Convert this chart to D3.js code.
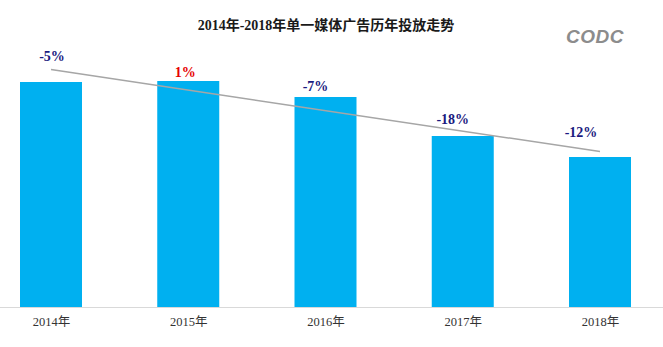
<!DOCTYPE html>
<html>
<head>
<meta charset="utf-8">
<script src="https://cdn.jsdelivr.net/npm/d3@7"></script>
<style>
  html, body { margin: 0; padding: 0; background: #fff; }
  svg { display: block; }
</style>
</head>
<body>
<svg id="chart" width="663" height="347"></svg>
<script>
// ---- data ----
const categories = ["2014年", "2015年", "2016年", "2017年", "2018年"];
const values = [225, 226, 210, 171, 150];
const growthLabels = ["-5%", "1%", "-7%", "-18%", "-12%"];
const titleText = "2014年-2018年单一媒体广告历年投放走势";

// ---- layout ----
const W = 663, H = 347;
const baseY = 307;
const barW = 62;
// label offsets relative to bar centre / bar top
const labelDx = [1, -3, -10, -10, -19];
const labelDy = [-26, -9, -11, -17, -25];

const svg = d3.select("#chart");

const x = d3.scalePoint().domain(categories).range([51, 600]);
const y = d3.scaleLinear().domain([0, 250]).range([baseY, baseY - 250]);

// title
svg.append("text")
  .attr("x", 326).attr("y", 30)
  .attr("text-anchor", "middle")
  .attr("font-family", "'Liberation Serif', 'Noto Sans CJK SC', serif")
  .attr("font-weight", "bold")
  .attr("font-size", 14)
  .attr("fill", "#1a1a1a")
  .text(titleText);

// logo
svg.append("text")
  .attr("x", 595).attr("y", 43)
  .attr("text-anchor", "middle")
  .attr("font-family", "'Liberation Sans', sans-serif")
  .attr("font-style", "italic")
  .attr("font-weight", "bold")
  .attr("font-size", 19)
  .attr("letter-spacing", 0.5)
  .attr("fill", "#8c8c8c")
  .text("CODC");

// bars
svg.append("g").selectAll("rect")
  .data(values)
  .join("rect")
  .attr("x", (d, i) => x(categories[i]) - barW / 2)
  .attr("width", barW)
  .attr("y", d => y(d))
  .attr("height", d => y(0) - y(d))
  .attr("fill", "#00b0f0");

// axis line
svg.append("line")
  .attr("x1", 0).attr("x2", W)
  .attr("y1", baseY + 0.5).attr("y2", baseY + 0.5)
  .attr("stroke", "#d9d9d9").attr("stroke-width", 1);

// x labels
const xAxis = d3.axisBottom(x).tickSize(0).tickPadding(10);
const gx = svg.append("g").attr("transform", `translate(0,${baseY})`).call(xAxis);
gx.select(".domain").remove();
gx.selectAll("text")
  .attr("font-family", "'Liberation Serif', 'Noto Sans CJK SC', serif")
  .attr("font-size", 12.5)
  .attr("fill", "#333");

// linear trend line (least squares over bar values)
const n = values.length;
const xs = d3.range(n);
const mx = d3.mean(xs), my = d3.mean(values);
const slope = d3.sum(xs, i => (i - mx) * (values[i] - my)) / d3.sum(xs, i => (i - mx) ** 2);
const icpt = my - slope * mx;
const trend = xs.map(i => [x(categories[i]), y(icpt + slope * i)]);
svg.append("path")
  .attr("d", d3.line()([trend[0], trend[n - 1]]))
  .attr("stroke", "#a6a6a6")
  .attr("stroke-width", 1.5)
  .attr("fill", "none");

// growth labels
svg.append("g").selectAll("text")
  .data(growthLabels)
  .join("text")
  .attr("x", (d, i) => x(categories[i]) + labelDx[i])
  .attr("y", (d, i) => y(values[i]) + labelDy[i] + 5)
  .attr("text-anchor", "middle")
  .attr("font-family", "'Liberation Serif', serif")
  .attr("font-weight", "bold")
  .attr("font-size", 14)
  .attr("fill", d => d.startsWith("-") ? "#1a1a80" : "#e60000")
  .text(d => d);
</script>
</body>
</html>
